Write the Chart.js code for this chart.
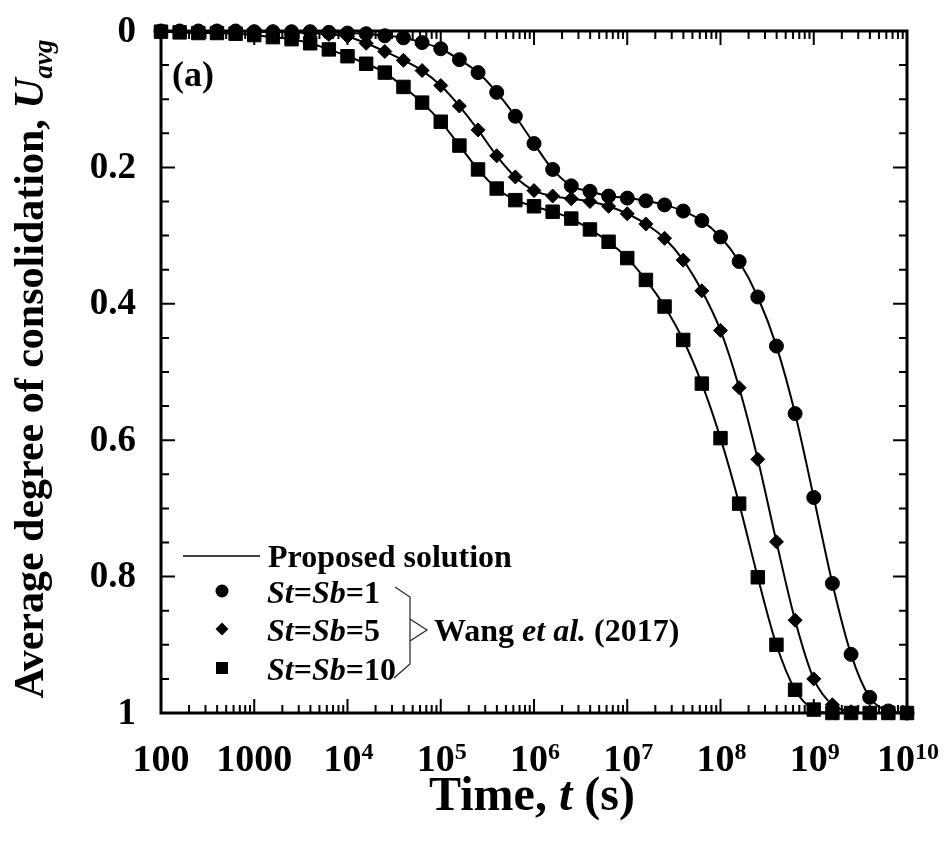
<!DOCTYPE html>
<html>
<head>
<meta charset="utf-8">
<script src="https://cdn.jsdelivr.net/npm/chart.js@4/dist/chart.umd.min.js"></script>
<style>
  html, body { margin: 0; padding: 0; background: #fff; }
  #wrap { width: 948px; height: 846px; }
</style>
</head>
<body>
<div id="wrap"><canvas id="consolidation" width="948" height="846"></canvas></div>
<script>
// log10 of time (s) at each sampled point
const logTime = [
  2.0, 2.2, 2.4, 2.6, 2.8, 3.0, 3.2, 3.4, 3.6, 3.8,
  4.0, 4.2, 4.4, 4.6, 4.8, 5.0, 5.2, 5.4, 5.6, 5.8,
  6.0, 6.2, 6.4, 6.6, 6.8, 7.0, 7.2, 7.4, 7.6, 7.8,
  8.0, 8.2, 8.4, 8.6, 8.8, 9.0, 9.2, 9.4, 9.6, 9.8, 10.0
];

// average degree of consolidation, St=Sb=1
const uS1 = [
  0.000, 0.000, 0.000, 0.000, 0.000, 0.001, 0.001, 0.001, 0.001, 0.002,
  0.003, 0.004, 0.007, 0.010, 0.017, 0.026, 0.042, 0.061, 0.090, 0.125,
  0.165, 0.203, 0.227, 0.235, 0.242, 0.245, 0.249, 0.255, 0.264, 0.278,
  0.302, 0.338, 0.390, 0.462, 0.561, 0.684, 0.810, 0.914, 0.977, 0.997, 1.000
];

// St=Sb=5
const uS5 = [
  0.000, 0.000, 0.000, 0.000, 0.000, 0.001, 0.001, 0.002, 0.003, 0.005,
  0.008, 0.018, 0.030, 0.043, 0.058, 0.080, 0.110, 0.145, 0.183, 0.214,
  0.234, 0.242, 0.246, 0.250, 0.257, 0.268, 0.283, 0.304, 0.336, 0.381,
  0.439, 0.523, 0.628, 0.749, 0.864, 0.950, 0.988, 0.998, 1.000, 1.000, 1.000
];

// St=Sb=10
const uS10 = [
  0.001, 0.002, 0.003, 0.003, 0.004, 0.006, 0.009, 0.012, 0.018, 0.027,
  0.037, 0.048, 0.061, 0.082, 0.105, 0.133, 0.168, 0.203, 0.231, 0.248,
  0.257, 0.265, 0.275, 0.291, 0.309, 0.333, 0.365, 0.404, 0.453, 0.517,
  0.597, 0.693, 0.801, 0.900, 0.966, 0.995, 1.000, 1.000, 1.000, 1.000, 1.000
];

// axis ticks
const xTickExps = [2, 3, 4, 5, 6, 7, 8, 9, 10];
const xTickLabels = [['100', ''], ['1000', ''], ['10', '4'], ['10', '5'], ['10', '6'],
                     ['10', '7'], ['10', '8'], ['10', '9'], ['10', '10']];
const yTicks = [0, 0.2, 0.4, 0.6, 0.8, 1];
const yTickLabels = ['0', '0.2', '0.4', '0.6', '0.8', '1'];

const SERIF = "'Liberation Serif', 'Times New Roman', serif";

const times = logTime.map(e => Math.pow(10, e));
const toPoints = vals => vals.map((v, i) => ({ x: times[i], y: v }));

function series(label, vals, style, radius) {
  return {
    label: label,
    data: toPoints(vals),
    borderColor: '#000',
    borderWidth: 2,
    backgroundColor: '#000',
    pointStyle: style,
    pointRadius: radius,
    pointBackgroundColor: '#000',
    pointBorderColor: '#000',
    pointBorderWidth: 1,
    cubicInterpolationMode: 'monotone',
    clip: false
  };
}

// draws a run of [text, italic, sizeScale, dy] pieces from x along the baseline
function drawRuns(ctx, runs, x, y, size) {
  let cx = x;
  for (const [text, italic, scale, dy] of runs) {
    ctx.font = (italic ? 'italic ' : '') + 'bold ' + Math.round(size * scale) + 'px ' + SERIF;
    ctx.fillText(text, cx, y + dy);
    cx += ctx.measureText(text).width;
  }
  return cx - x;
}
function runsWidth(ctx, runs, size) {
  let w = 0;
  for (const [text, italic, scale] of runs) {
    ctx.font = (italic ? 'italic ' : '') + 'bold ' + Math.round(size * scale) + 'px ' + SERIF;
    w += ctx.measureText(text).width;
  }
  return w;
}

function marker(ctx, style, x, y) {
  ctx.beginPath();
  if (style === 'circle') {
    ctx.arc(x, y, 6.5, 0, Math.PI * 2);
  } else if (style === 'rectRot') {
    ctx.moveTo(x, y - 6.5); ctx.lineTo(x + 6.5, y);
    ctx.lineTo(x, y + 6.5); ctx.lineTo(x - 6.5, y);
    ctx.closePath();
  } else {
    ctx.rect(x - 6, y - 6, 12, 12);
  }
  ctx.fill();
}

const axesPlugin = {
  id: 'axesPlugin',
  beforeDatasetsDraw(chart) {
    const { ctx, chartArea: a, scales: { x, y } } = chart;
    ctx.save();
    ctx.strokeStyle = '#000';
    ctx.lineWidth = 2;
    ctx.beginPath();
    // inward log ticks on bottom and top
    for (const k of xTickExps) {
      for (let m = 1; m <= 9; m++) {
        const v = m * Math.pow(10, k);
        if (v > 1e10) break;
        const px = x.getPixelForValue(v);
        const len = m === 1 ? 14 : 8;
        ctx.moveTo(px, a.bottom); ctx.lineTo(px, a.bottom - len);
        ctx.moveTo(px, a.top); ctx.lineTo(px, a.top + len);
      }
    }
    // inward ticks on left and right every 0.05
    for (let i = 0; i <= 20; i++) {
      const py = y.getPixelForValue(i * 0.05);
      const len = i % 4 === 0 ? 14 : 8;
      ctx.moveTo(a.left, py); ctx.lineTo(a.left + len, py);
      ctx.moveTo(a.right, py); ctx.lineTo(a.right - len, py);
    }
    ctx.stroke();
    ctx.lineWidth = 3;
    ctx.strokeRect(a.left, a.top, a.right - a.left, a.bottom - a.top);
    ctx.restore();
  },
  afterDraw(chart) {
    const { ctx, chartArea: a, scales: { x, y } } = chart;
    ctx.save();
    ctx.fillStyle = '#000';
    ctx.strokeStyle = '#000';

    // y tick labels
    ctx.font = 'bold 37px ' + SERIF;
    ctx.textAlign = 'right';
    ctx.textBaseline = 'middle';
    yTicks.forEach((v, i) => {
      ctx.fillText(yTickLabels[i], 136, y.getPixelForValue(v) + 1);
    });

    // x tick labels with superscript exponents
    ctx.textAlign = 'left';
    ctx.textBaseline = 'alphabetic';
    xTickExps.forEach((k, i) => {
      const [base, sup] = xTickLabels[i];
      const runs = [[base, false, 1, 0]];
      if (sup) runs.push([sup, false, 0.62, -12]);
      const w = runsWidth(ctx, runs, 38);
      const px = x.getPixelForValue(Math.pow(10, k));
      drawRuns(ctx, runs, px - w / 2 + (sup ? 1 : 0), 771, 38);
    });

    // x axis title
    const xTitle = [['Time, ', false, 1, 0], ['t', true, 1, 0], [' (s)', false, 1, 0]];
    const xw = runsWidth(ctx, xTitle, 48);
    drawRuns(ctx, xTitle, 532 - xw / 2, 810, 48);

    // y axis title, rotated
    const yTitle = [['Average degree of consolidation, ', false, 1, 0],
                    ['U', true, 1, 0], ['avg', true, 0.64, 9]];
    const yw = runsWidth(ctx, yTitle, 42);
    ctx.save();
    ctx.translate(43, 369);
    ctx.rotate(-Math.PI / 2);
    drawRuns(ctx, yTitle, -yw / 2, 0, 42);
    ctx.restore();

    // panel tag
    ctx.font = 'bold 36px ' + SERIF;
    ctx.fillText('(a)', 172, 86);

    // legend
    ctx.lineWidth = 1.6;
    ctx.beginPath();
    ctx.moveTo(183, 556); ctx.lineTo(260, 556);
    ctx.stroke();
    ctx.font = 'bold 32px ' + SERIF;
    ctx.fillText('Proposed solution', 268, 567);

    const legendRows = [['circle', '1', 591], ['rectRot', '5', 629], ['rect', '10', 668]];
    for (const [style, val, cy] of legendRows) {
      marker(ctx, style, 222, cy);
      drawRuns(ctx, [['S', true, 1, 0], ['t', true, 1, 0], ['=', false, 1, 0],
                     ['S', true, 1, 0], ['b', true, 1, 0], ['=' + val, false, 1, 0]],
               267, cy + 12, 32);
    }

    // brace grouping the reference data
    ctx.lineWidth = 1.2;
    ctx.strokeStyle = '#222';
    ctx.beginPath();
    ctx.moveTo(395, 587); ctx.lineTo(410, 597); ctx.lineTo(410, 664); ctx.lineTo(394, 678);
    ctx.moveTo(410, 619); ctx.lineTo(427, 630); ctx.lineTo(410, 641);
    ctx.stroke();
    drawRuns(ctx, [['Wang ', false, 1, 0], ['et al.', true, 1, 0], [' (2017)', false, 1, 0]],
             434, 641, 32);

    ctx.restore();
  }
};

new Chart(document.getElementById('consolidation'), {
  type: 'line',
  data: {
    datasets: [
      series('St=Sb=1', uS1, 'circle', 7),
      series('St=Sb=5', uS5, 'rectRot', 7),
      series('St=Sb=10', uS10, 'rect', 9.5)
    ]
  },
  options: {
    responsive: false,
    animation: false,
    layout: {
      autoPadding: false,
      padding: { left: 153, top: 31, right: 41, bottom: 125 }
    },
    plugins: {
      legend: { display: false },
      tooltip: { enabled: false }
    },
    scales: {
      x: {
        type: 'logarithmic',
        min: 100,
        max: 1e10,
        grid: { display: false },
        border: { display: false },
        ticks: { display: false }
      },
      y: {
        min: 0,
        max: 1,
        reverse: true,
        grid: { display: false },
        border: { display: false },
        ticks: { display: false }
      }
    }
  },
  plugins: [axesPlugin]
});
</script>
</body>
</html>
